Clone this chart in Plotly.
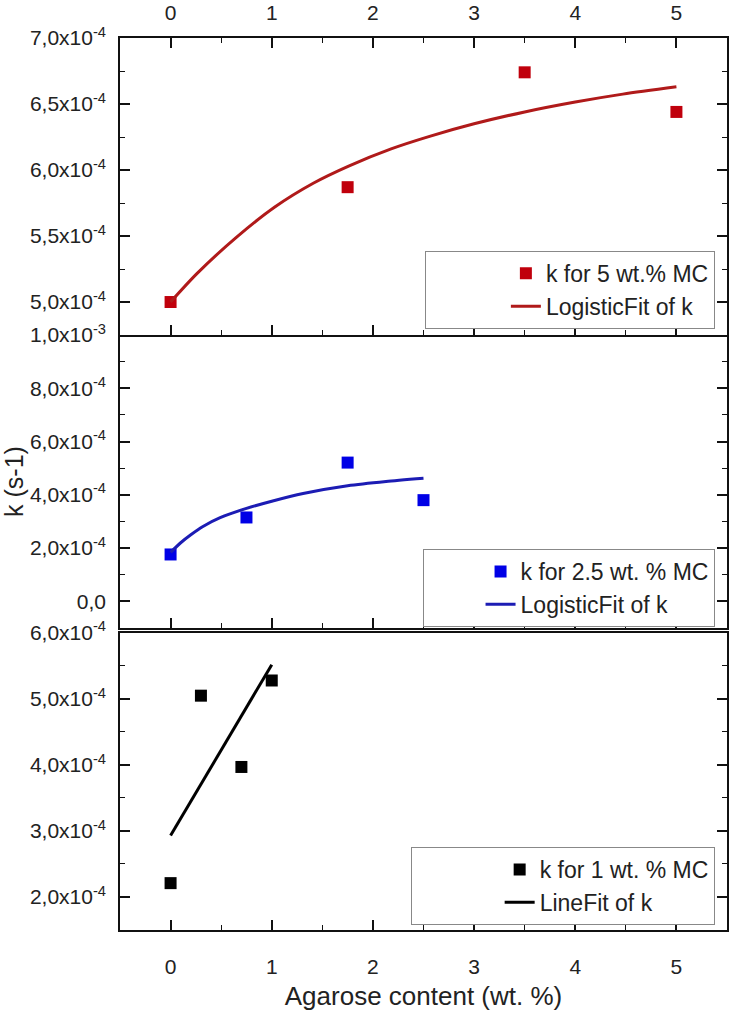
import plotly.graph_objects as go

# ---- data ----
agarose_5 = [0, 1.75, 3.5, 5]
k_5 = [5.00e-4, 5.87e-4, 6.74e-4, 6.44e-4]
fit_x_5 = [0, 0.26, 0.65, 1.03, 1.41, 1.76, 2.18, 2.56, 3.0, 3.5, 4.0, 4.47, 5.0]
fit_k_5 = [5.00e-4, 5.215e-4, 5.49e-4, 5.72e-4, 5.90e-4, 6.03e-4, 6.16e-4, 6.255e-4,
           6.35e-4, 6.44e-4, 6.515e-4, 6.575e-4, 6.63e-4]

agarose_25 = [0, 0.75, 1.75, 2.5]
k_25 = [1.76e-4, 3.15e-4, 5.21e-4, 3.80e-4]
fit_x_25 = [0, 0.1, 0.2, 0.32, 0.49, 0.75, 1.0, 1.31, 1.75, 2.13, 2.5]
fit_k_25 = [1.84e-4, 2.20e-4, 2.50e-4, 2.81e-4, 3.14e-4, 3.49e-4, 3.76e-4, 4.05e-4,
            4.34e-4, 4.50e-4, 4.62e-4]

agarose_1 = [0, 0.3, 0.7, 1.0]
k_1 = [2.21e-4, 5.05e-4, 3.97e-4, 5.28e-4]
linefit_x_1 = [0, 1]
linefit_k_1 = [2.93e-4, 5.52e-4]

x_ticks = [0, 1, 2, 3, 4, 5]
top_yticks = [5.0e-4, 5.5e-4, 6.0e-4, 6.5e-4, 7.0e-4]
top_ytext = ["5,0x10<sup>-4</sup>", "5,5x10<sup>-4</sup>", "6,0x10<sup>-4</sup>",
             "6,5x10<sup>-4</sup>", "7,0x10<sup>-4</sup>"]
mid_yticks = [0, 2e-4, 4e-4, 6e-4, 8e-4, 1e-3]
mid_ytext = ["0,0", "2,0x10<sup>-4</sup>", "4,0x10<sup>-4</sup>", "6,0x10<sup>-4</sup>",
             "8,0x10<sup>-4</sup>", "1,0x10<sup>-3</sup>"]
bot_yticks = [2e-4, 3e-4, 4e-4, 5e-4, 6e-4]
bot_ytext = ["2,0x10<sup>-4</sup>", "3,0x10<sup>-4</sup>", "4,0x10<sup>-4</sup>",
             "5,0x10<sup>-4</sup>", "6,0x10<sup>-4</sup>"]

RED_M, RED_L = "#C0000C", "#B01A1A"
BLUE_M, BLUE_L = "#0000E6", "#1C1CB4"
BLACK = "#000000"
FONT = "Liberation Sans, Arial, sans-serif"
TXT = "#222222"

fig = go.Figure()

# top panel (x3, y3)
fig.add_trace(go.Scatter(x=agarose_5, y=k_5, mode="markers", name="k for 5 wt.% MC",
                         marker=dict(symbol="square", size=12, color=RED_M),
                         xaxis="x3", yaxis="y3", legend="legend"))
fig.add_trace(go.Scatter(x=fit_x_5, y=fit_k_5, mode="lines", name="LogisticFit of k",
                         line=dict(color=RED_L, width=3, shape="spline", smoothing=0.8),
                         xaxis="x3", yaxis="y3", legend="legend"))
# middle panel (x2, y2)
fig.add_trace(go.Scatter(x=agarose_25, y=k_25, mode="markers", name="k for 2.5 wt. % MC",
                         marker=dict(symbol="square", size=12, color=BLUE_M),
                         xaxis="x2", yaxis="y2", legend="legend2"))
fig.add_trace(go.Scatter(x=fit_x_25, y=fit_k_25, mode="lines", name="LogisticFit of k",
                         line=dict(color=BLUE_L, width=3, shape="spline", smoothing=0.6),
                         xaxis="x2", yaxis="y2", legend="legend2"))
# bottom panel (x, y)
fig.add_trace(go.Scatter(x=agarose_1, y=k_1, mode="markers", name="k for 1 wt. % MC",
                         marker=dict(symbol="square", size=12, color=BLACK),
                         xaxis="x", yaxis="y", legend="legend3"))
fig.add_trace(go.Scatter(x=linefit_x_1, y=linefit_k_1, mode="lines", name="LineFit of k",
                         line=dict(color=BLACK, width=3),
                         xaxis="x", yaxis="y", legend="legend3"))

axis_common = dict(showline=True, linecolor="#111111", linewidth=1.6,
                   ticks="inside", ticklen=10, tickwidth=1.6, tickcolor="#111111",
                   showgrid=False, zeroline=False, automargin=False,
                   tickfont=dict(family=FONT, size=21, color=TXT))

xcommon = dict(axis_common, range=[-0.5, 5.5], tickmode="array", tickvals=x_ticks,
               minor=dict(dtick=0.5, tick0=0, ticks="inside", ticklen=5,
                          tickwidth=1.4, tickcolor="#111111", showgrid=False))

fig.update_layout(
    xaxis=dict(xcommon, anchor="y", domain=[0, 1], mirror=True, ticklabelstandoff=17,
               title=dict(text="Agarose content (wt. %)", standoff=10,
                          font=dict(family=FONT, size=26, color=TXT))),
    xaxis2=dict(xcommon, anchor="y2", domain=[0, 1], mirror=False, showticklabels=False),
    xaxis3=dict(xcommon, anchor="y3", domain=[0, 1], side="top", mirror="ticks",
                ticklabelstandoff=8),
    yaxis=dict(axis_common, anchor="x", domain=[0, 0.333], range=[1.5e-4, 6.0e-4],
               tickmode="array", tickvals=bot_yticks, ticktext=bot_ytext,
               mirror="ticks", ticklabelstandoff=8,
               minor=dict(dtick=0.5e-4, tick0=0, ticks="inside", ticklen=5,
                          tickwidth=1.4, tickcolor="#111111", showgrid=False)),
    yaxis2=dict(axis_common, anchor="x2", domain=[0.3386, 0.667], range=[-1e-4, 1e-3],
                tickmode="array", tickvals=mid_yticks, ticktext=mid_ytext,
                mirror="ticks", ticklabelstandoff=8,
                title=dict(text="k (s-1)", standoff=4,
                           font=dict(family=FONT, size=25, color=TXT)),
                minor=dict(dtick=1e-4, tick0=0, ticks="inside", ticklen=5,
                           tickwidth=1.4, tickcolor="#111111", showgrid=False)),
    yaxis3=dict(axis_common, anchor="x3", domain=[0.667, 1], range=[4.75e-4, 7.0e-4],
                tickmode="array", tickvals=top_yticks, ticktext=top_ytext,
                mirror="ticks", ticklabelstandoff=8,
                minor=dict(dtick=0.25e-4, tick0=0, ticks="inside", ticklen=5,
                           tickwidth=1.4, tickcolor="#111111", showgrid=False)),
)

leg_common = dict(bgcolor="white", bordercolor="#888888", borderwidth=1,
                  font=dict(family=FONT, size=23, color=TXT),
                  xanchor="right", yanchor="bottom", tracegroupgap=0)
fig.update_layout(
    legend=dict(leg_common, x=0.98, y=0.674,
                title=dict(text="&nbsp;" * 9, side="left")),
    legend2=dict(leg_common, x=0.98, y=0.3397,
                 title=dict(text="&nbsp;" * 6, side="left")),
    legend3=dict(leg_common, x=0.98, y=0.0056,
                 title=dict(text="&nbsp;" * 10, side="left")),
)

fig.update_layout(width=732, height=1013, margin=dict(l=120, r=5, t=38, b=83),
                  plot_bgcolor="white", paper_bgcolor="white", showlegend=True,
                  font=dict(family=FONT, color=TXT))

fig.write_html("out.html", config={"displayModeBar": False},
               post_script="document.body.style.margin='0px';document.body.style.overflow='hidden';")
